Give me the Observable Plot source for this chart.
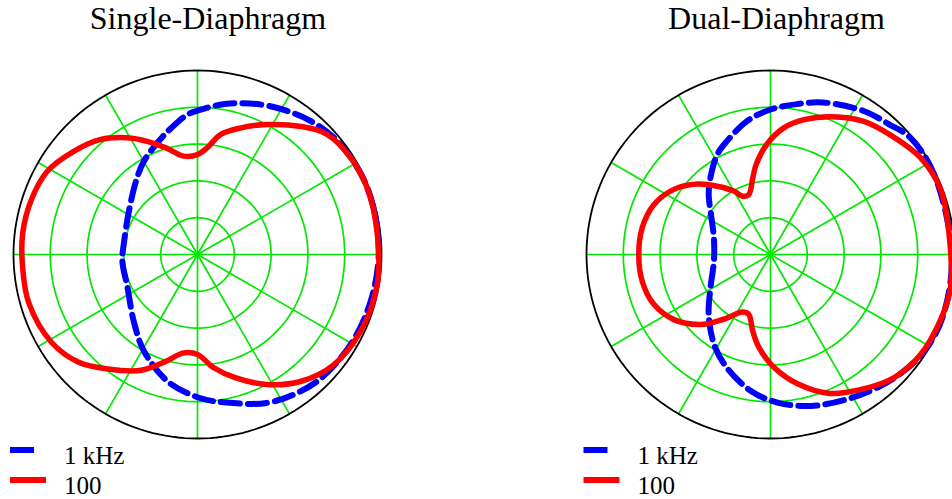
<!DOCTYPE html>
<html>
<head>
<meta charset="utf-8">
<script src="https://cdn.jsdelivr.net/npm/d3@7"></script>
<script src="https://cdn.jsdelivr.net/npm/@observablehq/plot@0.6"></script>
<style>
  body { margin: 0; background: #fff; }
  #chart { width: 952px; height: 499px; overflow: hidden; }
  #chart svg text, .serif-text text { font-family: "Liberation Serif", "Times New Roman", serif !important; }
</style>
</head>
<body>
<div id="chart"></div>
<script>
// ---------- data ----------
const panelTitles = ["Single-Diaphragm", "Dual-Diaphragm"];
const seriesNames = ["1 kHz", "100"];
const ringLevels = [0.2, 0.4, 0.6, 0.8];
const spokeAngles = [0, 30, 60, 90, 120, 150, 180, 210, 240, 270, 300, 330];

// Single-Diaphragm, 1 kHz (angle in degrees, relative level 0..1)
const single1kAngle = [0, 15, 27, 40, 50, 58, 67, 79, 86, 94, 102, 109, 120, 130, 148, 170, 185, 205, 226, 241, 257, 271, 281, 295, 305, 315, 330, 345];
const single1kLevel = [0.985, 0.99, 0.99, 0.977, 0.95, 0.92, 0.885, 0.835, 0.80, 0.763, 0.70, 0.65, 0.584, 0.52, 0.44, 0.405, 0.41, 0.42, 0.50, 0.60, 0.71, 0.78, 0.82, 0.89, 0.925, 0.95, 0.966, 0.975];

// Single-Diaphragm, 100 Hz
const single100Angle = [0, 19, 32, 43, 51, 62, 71, 79, 85, 90, 98, 106, 114, 121, 130, 140, 151, 162, 173, 184, 196, 211, 222, 232, 244, 253, 262, 270, 278, 287, 298, 309, 321, 335, 349];
const single100Level = [0.985, 0.99, 0.985, 0.96, 0.895, 0.80, 0.728, 0.665, 0.58, 0.543, 0.54, 0.60, 0.673, 0.74, 0.817, 0.875, 0.933, 0.951, 0.957, 0.953, 0.954, 0.926, 0.873, 0.79, 0.70, 0.61, 0.54, 0.543, 0.62, 0.70, 0.80, 0.888, 0.953, 0.98, 0.99];

// Dual-Diaphragm, 1 kHz
const dual1kAngle = [0, 26, 40, 48, 57, 71, 80, 90, 100, 111, 118, 128, 136, 146, 164, 187, 209, 224, 238, 249, 262, 273, 285, 298, 309, 319, 329, 341];
const dual1kLevel = [0.985, 0.99, 0.99, 0.956, 0.93, 0.874, 0.83, 0.788, 0.736, 0.66, 0.616, 0.53, 0.467, 0.39, 0.32, 0.31, 0.373, 0.467, 0.578, 0.66, 0.75, 0.807, 0.852, 0.89, 0.928, 0.963, 0.99, 0.995];

// Dual-Diaphragm, 100 Hz
const dual100Angle = [0, 21, 33, 45, 55, 66, 76, 84, 92, 99, 103, 110, 116, 120, 128, 136, 146, 157, 168, 180, 192, 203, 214, 225, 234, 244, 250, 257, 263, 272, 282, 293, 305, 315, 326, 339, 349];
const dual100Level = [0.98, 0.99, 0.97, 0.92, 0.884, 0.82, 0.755, 0.692, 0.598, 0.496, 0.428, 0.346, 0.353, 0.398, 0.471, 0.551, 0.633, 0.69, 0.712, 0.716, 0.712, 0.69, 0.633, 0.538, 0.435, 0.348, 0.346, 0.428, 0.51, 0.616, 0.72, 0.82, 0.89, 0.948, 0.98, 0.99, 0.995];

// ---------- layout ----------
const W = 952, H = 499;
const R = 184;                 // pixels per unit radius
const centersPx = [197, 770];  // panel centres (px)
const centerY = 254;
const pxX = px => (px - centersPx[0]) / R;
const pxY = py => (centerY - py) / R;
const panelOffset = centersPx.map(c => (c - centersPx[0]) / R);

const colors = {"1 kHz": "#0000ff", "100": "#ff0000"};
const gridColor = "#00e800";
const serif = "Liberation Serif, Times New Roman, serif";

const rad = d => d * Math.PI / 180;

// build curve rows
const curveDefs = [
  {panel: 0, series: "1 kHz", a: single1kAngle, r: single1kLevel},
  {panel: 0, series: "100", a: single100Angle, r: single100Level},
  {panel: 1, series: "1 kHz", a: dual1kAngle, r: dual1kLevel},
  {panel: 1, series: "100", a: dual100Angle, r: dual100Level}
];
const curveRows = curveDefs.flatMap(c => c.a.map((ang, i) => ({
  key: c.panel + "-" + c.series,
  panel: c.panel, series: c.series,
  x: panelOffset[c.panel] + c.r[i] * Math.cos(rad(ang)),
  y: c.r[i] * Math.sin(rad(ang))
})));
const blueRows = curveRows.filter(d => d.series === "1 kHz");
const redRows = curveRows.filter(d => d.series === "100");

// grid rings
const ringRows = [];
[0, 1].forEach(p => {
  [...ringLevels, 1].forEach(lv => {
    for (let k = 0; k <= 360; k += 2) {
      ringRows.push({key: p + "-" + lv, outer: lv === 1,
        x: panelOffset[p] + lv * Math.cos(rad(k)), y: lv * Math.sin(rad(k))});
    }
  });
});
const innerRings = ringRows.filter(d => !d.outer);
const outerRings = ringRows.filter(d => d.outer);

// spokes
const spokeRows = [0, 1].flatMap(p => spokeAngles.map(a => ({
  x1: panelOffset[p], y1: 0,
  x2: panelOffset[p] + Math.cos(rad(a)), y2: Math.sin(rad(a))
})));

// titles
const titleX = [pxX(207.5), pxX(776)];
const titleRows = panelTitles.map((t, i) => ({text: t, x: titleX[i], y: pxY(28)}));

// legend
const legendX = [9.5, 583];
const legendRowsY = [449.5, 479.5];
const legendRows = [0, 1].flatMap(p => seriesNames.map((s, i) => ({
  series: s,
  x1: pxX(legendX[p]),
  x2: pxX(legendX[p] + (s === "1 kHz" ? 24 : 36)),
  y: pxY(legendRowsY[i]),
  tx: pxX(legendX[p] + 54),
  ty: pxY(legendRowsY[i] + 14)
})));

const plot = Plot.plot({
  width: W, height: H,
  marginTop: 0, marginRight: 0, marginBottom: 0, marginLeft: 0,
  x: {domain: [pxX(0), pxX(W)], range: [0, W], axis: null},
  y: {domain: [pxY(H), pxY(0)], range: [H, 0], axis: null},
  style: {background: "#fff", fontFamily: serif},
  marks: [
    Plot.line(innerRings, {x: "x", y: "y", z: "key", stroke: gridColor, strokeWidth: 1.7}),
    Plot.link(spokeRows, {x1: "x1", y1: "y1", x2: "x2", y2: "y2", stroke: gridColor, strokeWidth: 1.7}),
    Plot.line(outerRings, {x: "x", y: "y", z: "key", stroke: "#000", strokeWidth: 1.8}),
    Plot.line(blueRows, {x: "x", y: "y", z: "key", curve: "catmull-rom-closed",
      stroke: colors["1 kHz"], strokeWidth: 6, strokeDasharray: "19,8", strokeLinejoin: "round"}),
    Plot.line(redRows, {x: "x", y: "y", z: "key", curve: "catmull-rom-closed",
      stroke: colors["100"], strokeWidth: 5.5, strokeLinejoin: "round"}),
    Plot.text(titleRows, {x: "x", y: "y", text: "text", fontSize: 32,
      fontFamily: serif, fill: "#000", className: "serif-text",
      textAnchor: "middle", lineAnchor: "bottom"}),
    Plot.link(legendRows, {x1: "x1", x2: "x2", y1: "y", y2: "y",
      stroke: d => colors[d.series], strokeWidth: 6}),
    Plot.text(legendRows, {x: "tx", y: "ty", text: "series", fontSize: 25,
      fontFamily: serif, fill: "#000", className: "serif-text",
      textAnchor: "start", lineAnchor: "bottom"})
  ]
});
document.getElementById("chart").appendChild(plot);
</script>
</body>
</html>
